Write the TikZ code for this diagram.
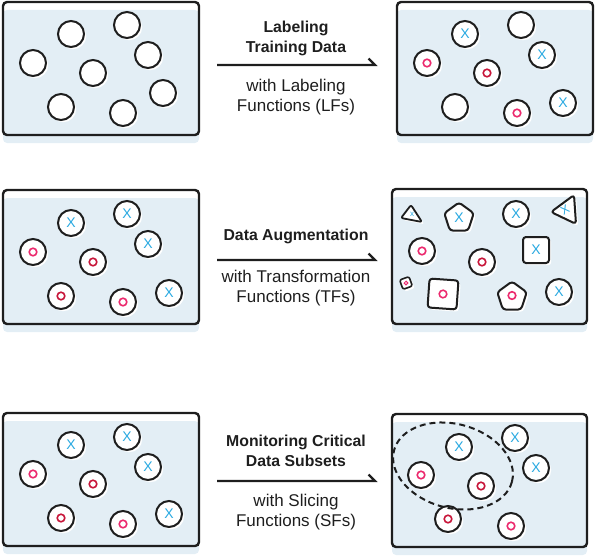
\documentclass[tikz,border=0pt]{standalone}
\usepackage{fontspec}
\setmainfont{Liberation Sans}
\usetikzlibrary{shapes.geometric,shadows}
\definecolor{boxblue}{HTML}{E3EEF5}
\definecolor{xblue}{HTML}{29A9E1}
\definecolor{opink}{HTML}{EC2A6E}
\definecolor{ored}{HTML}{C8163A}
\definecolor{ink}{HTML}{1E1E1E}
\tikzset{
  sh/.style={drop shadow={fill=white,opacity=1,shadow xshift=2.2pt,shadow yshift=-2.2pt}},
  frame/.style={draw=ink,line width=2.4pt,rounded corners=4pt},
  bg/.style={fill=boxblue,rounded corners=4pt},
  ball/.style={circle,draw=ink,line width=2pt,fill=white,minimum size=26pt,inner sep=0pt,sh},
  xs/.style={text=xblue,font=\fontsize{14}{14}\selectfont},
  oring/.style={path picture={\draw[#1,line width=1.6pt] (path picture bounding box.center) circle (3.8pt);}},
  xball/.style={ball,xs},
  pball/.style={ball,oring=opink},
  rball/.style={ball,oring=ored},
  shapeline/.style={draw=ink,line width=2pt,fill=white,rounded corners=3pt,line join=round,sh},
  penta/.style={regular polygon,regular polygon sides=5,minimum size=31pt,inner sep=0pt,shapeline},
  sqr/.style={rectangle,minimum size=#1,inner sep=0pt,shapeline},
  ttl/.style={font=\bfseries\fontsize{15.8}{20}\selectfont,align=center,text=ink},
  sub/.style={font=\fontsize{17}{20}\selectfont,align=center,text=ink},
  arr/.style={draw=ink,line width=2.2pt,line join=miter},
}
\begin{document}
\begin{tikzpicture}[x=1pt,y=-1pt]
\useasboundingbox (0,0) rectangle (602,559);
% ---------- boxes ----------
\fill[bg] (3,10) rectangle (199,143);
\draw[frame] (3,2) rectangle (199,135);
\fill[bg] (397,10) rectangle (593,143);
\draw[frame] (397,2) rectangle (593,135);
\fill[bg] (3,198) rectangle (199,332);
\draw[frame] (3,190) rectangle (199,324);
\fill[bg] (392,197) rectangle (587,332);
\draw[frame] (392,189) rectangle (587,324);
\fill[bg] (3,421) rectangle (199,554);
\draw[frame] (3,413) rectangle (199,546);
\fill[bg] (392,422) rectangle (587,555);
\draw[frame] (392,414) rectangle (587,547);

% ---------- row 1 ----------
\node[ball] (a1) at (71,34) {};
\node[ball] (a2) at (127,25) {};
\node[ball] (a3) at (33,63) {};
\node[ball] (a4) at (148,55) {};
\node[ball] (a5) at (93,73) {};
\node[ball] (a6) at (163,93) {};
\node[ball] (a7) at (61,107) {};
\node[ball] (a8) at (123,113) {};

\node[xball] (b1) at (465,34) {X};
\node[ball] (b2) at (521,25) {};
\node[pball] (b3) at (427,63) {};
\node[xball] (b4) at (542,55) {X};
\node[rball] (b5) at (487,73) {};
\node[xball] (b6) at (563,103) {X};
\node[ball] (b7) at (455,107) {};
\node[pball] (b8) at (517,113) {};

\node[ttl] (t1) at (296,38) {Labeling\\Training Data};
\node[sub] (s1) at (296,97.5) {with Labeling\\Functions (LFs)};
\coordinate (l1a) at (217,65);
\coordinate (l1b) at (375,65);
\draw[arr] (l1a) -- (l1b) -- ++(-6.5,-6.5);

% ---------- row 2 ----------
\node[xball] (c1) at (71,223) {X};
\node[xball] (c2) at (127,214) {X};
\node[pball] (c3) at (33,252) {};
\node[xball] (c4) at (148,244) {X};
\node[rball] (c5) at (93,262) {};
\node[xball] (c6) at (169,293) {X};
\node[rball] (c7) at (61,296) {};
\node[pball] (c8) at (123,302) {};

\draw[shapeline,line width=1.8pt,rounded corners=2pt] (401,218) -- (411,205) -- (422,222) -- cycle;
\node[text=xblue,font=\fontsize{8}{8}\selectfont,inner sep=0pt] (d1) at (412,214.5) {x};
\node[penta] (d2) at (459,218) {};
\node[xs,inner sep=0pt] (d2x) at (d2.center) {X};
\node[xball] (d3) at (516,214) {X};
\draw[shapeline] (551,212) -- (574,195) -- (576,224) -- cycle;
\node[text=xblue,font=\fontsize{12}{12}\selectfont,rotate=30,inner sep=0pt] (d4) at (565,210) {X};
\node[pball] (d5) at (422,251) {};
\node[sqr=26pt,xs] (d6) at (536,250) {X};
\node[rball] (d7) at (482,262) {};
\node[sqr=10pt,rotate=20,line width=1.6pt,rounded corners=2pt] (d8) at (406,283) {};
\draw[opink,line width=1pt] (d8.center) circle (1.8pt);
\node[sqr=29pt,rotate=-4,oring=opink] (d9) at (443,294) {};
\node[penta,oring=opink] (d10) at (512,297) {};
\node[xball] (d11) at (559,292) {X};

\node[ttl] (t2) at (296,236) {Data Augmentation};
\node[sub] (s2) at (296,288) {with Transformation\\Functions (TFs)};
\coordinate (l2a) at (217,260);
\coordinate (l2b) at (375,260);
\draw[arr] (l2a) -- (l2b) -- ++(-6.5,-6.5);

% ---------- row 3 ----------
\node[xball] (e1) at (71,445) {X};
\node[xball] (e2) at (127,437) {X};
\node[pball] (e3) at (33,474) {};
\node[xball] (e4) at (148,467) {X};
\node[rball] (e5) at (93,484) {};
\node[xball] (e6) at (169,514) {X};
\node[rball] (e7) at (61,518) {};
\node[pball] (e8) at (123,524) {};

\node[xball] (f1) at (459,447) {X};
\node[xball] (f2) at (515,438) {X};
\node[pball] (f3) at (421,475) {};
\node[xball] (f4) at (536,468) {X};
\node[rball] (f5) at (481,486) {};
\node[rball] (f6) at (448,519) {};
\node[pball] (f7) at (511,526) {};
\draw[ink,line width=2pt,dash pattern=on 6pt off 4pt] (453,466) ellipse [x radius=61, y radius=42, rotate=-15];

\node[ttl] (t3) at (296,451) {Monitoring Critical\\Data Subsets};
\node[sub] (s3) at (296,512) {with Slicing\\Functions (SFs)};
\coordinate (l3a) at (217,481);
\coordinate (l3b) at (375,481);
\draw[arr] (l3a) -- (l3b) -- ++(-6.5,-6.5);
\end{tikzpicture}
\end{document}
